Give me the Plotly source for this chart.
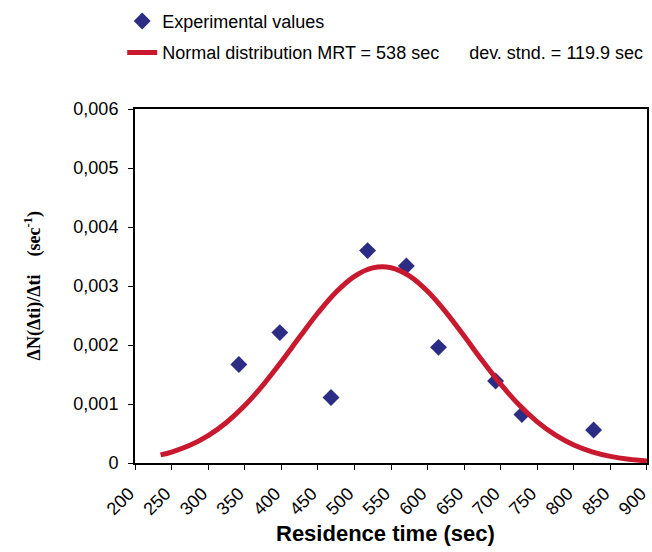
import plotly.graph_objects as go

exp_time = [342, 398, 468, 518, 571, 615, 693, 729, 827]
exp_value = [0.00167, 0.00221, 0.00111, 0.00360, 0.00334, 0.00196, 0.00139, 0.00082, 0.00056]

# Normal distribution curve
curve_time = [235, 250, 275, 300, 325, 350, 375, 400, 425, 450, 475, 500, 525, 550,
              575, 600, 625, 650, 675, 700, 725, 750, 775, 800, 825, 850, 875, 900]
curve_value = [0.000137, 0.000186, 0.000300, 0.000464, 0.000687, 0.000973, 0.001321,
               0.001716, 0.002134, 0.002542, 0.002898, 0.003164, 0.003307, 0.003310,
               0.003172, 0.002910, 0.002557, 0.002151, 0.001732, 0.001336, 0.000986,
               0.000697, 0.000472, 0.000306, 0.000190, 0.000113, 0.000064, 0.000035]

x_ticks = list(range(200, 901, 50))
y_ticks = [0, 0.001, 0.002, 0.003, 0.004, 0.005, 0.006]
y_tick_labels = ["0", "0,001", "0,002", "0,003", "0,004", "0,005", "0,006"]

NB = "\u00a0"

fig = go.Figure()
fig.add_trace(go.Scatter(
    x=exp_time, y=exp_value, mode="markers",
    name="Experimental values", legendgroup="a",
    marker=dict(symbol="diamond", size=13, color="#2B2D85"),
))
fig.add_trace(go.Scatter(
    x=curve_time, y=curve_value, mode="lines",
    name="Normal distribution MRT = 538 sec" + NB * 6 + "dev. stnd. = 119.9 sec",
    legendgroup="b",
    line=dict(color="#C8192E", width=5, shape="spline"),
))

fig.update_layout(
    width=652, height=552,
    margin=dict(l=135, r=3, t=104, b=89),
    paper_bgcolor="white", plot_bgcolor="white",
    font=dict(family="Liberation Sans, Arial, sans-serif", size=18, color="black"),
    showlegend=True,
    legend=dict(x=-0.025, y=1.30, xanchor="left", yanchor="top",
                font=dict(size=18), bgcolor="rgba(0,0,0,0)",
                traceorder="grouped", tracegroupgap=5, itemwidth=30),
    xaxis=dict(
        range=[200, 900.01], tickvals=x_ticks, ticktext=[str(v) for v in x_ticks],
        tickangle=-45, ticks="outside", ticklen=5, tickcolor="black", tickwidth=1,
        showline=True, linecolor="black", linewidth=2, mirror=True,
        showgrid=False, zeroline=False, ticklabelstandoff=6, ticklabelshift=-6,
        tickfont=dict(size=18),
    ),
    yaxis=dict(
        range=[0, 0.006], tickvals=y_ticks, ticktext=y_tick_labels,
        ticks="outside", ticklen=5, tickcolor="black", tickwidth=1,
        showline=True, linecolor="black", linewidth=2, mirror=True,
        showgrid=False, zeroline=False, ticklabelstandoff=6,
        tickfont=dict(size=18),
    ),
    annotations=[
        dict(text="<b>Residence time (sec)</b>", xref="paper", yref="paper",
             x=(386 - 135) / 514, y=(463 - 534) / 359, xanchor="center", yanchor="middle",
             showarrow=False, font=dict(size=22)),
        dict(text="<b>ΔN(Δti)/Δti" + NB * 4 + "(sec<sup>-1</sup>)</b>",
             xref="paper", yref="paper", textangle=-90,
             x=(33 - 135) / 514, y=0.5, xanchor="center", yanchor="middle",
             showarrow=False,
             font=dict(size=18, family="Liberation Serif, Times New Roman, serif")),
    ],
)

fig.write_html("out.html")
